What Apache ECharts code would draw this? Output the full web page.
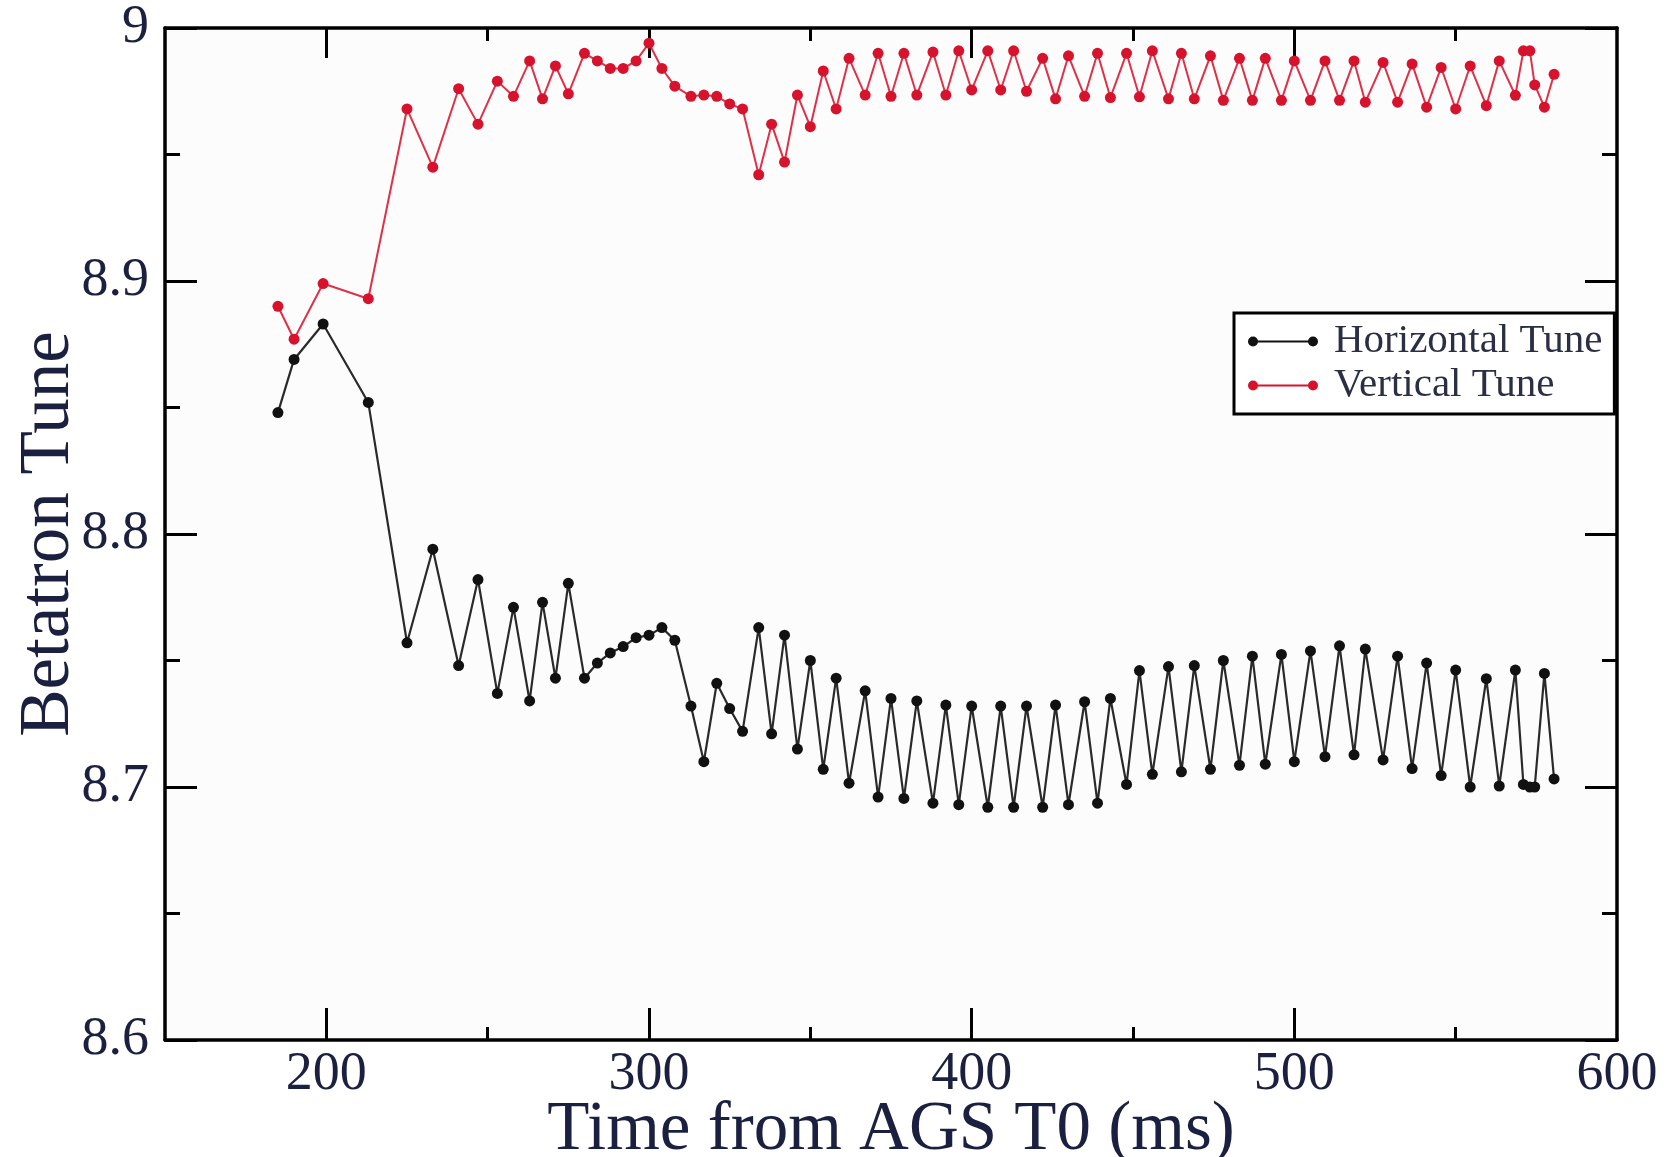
<!DOCTYPE html>
<html>
<head>
<meta charset="utf-8">
<script src="https://cdn.jsdelivr.net/npm/echarts@6/dist/echarts.min.js"></script>
<style>
html,body{margin:0;padding:0;background:#fff;}
#chart{width:1673px;height:1157px;}
</style>
</head>
<body>
<div id="chart"></div>
<script>
// Time from AGS T0 (ms)
var times = [185, 190, 199, 213, 225, 233, 241, 247, 253, 258, 263, 267, 271, 275, 280, 284, 288, 292, 296, 300,
  304, 308, 313, 317, 321, 325, 329, 334, 338, 342, 346, 350, 354, 358, 362, 367, 371, 375, 379, 383,
  388, 392, 396, 400, 405, 409, 413, 417, 422, 426, 430, 435, 439, 443, 448, 452, 456, 461, 465, 469,
  474, 478, 483, 487, 491, 496, 500, 505, 509.5, 514, 518.5, 522, 527.5, 532, 536.5, 541, 545.5, 550, 554.5, 559.5,
  563.5, 568.5, 571, 573, 574.5, 577.5, 580.5];

var horizontalTune = [8.848, 8.869, 8.883, 8.852, 8.757, 8.794, 8.748, 8.782, 8.737, 8.771, 8.734, 8.773, 8.743, 8.7805, 8.743, 8.749, 8.753, 8.7555, 8.759, 8.760,
  8.763, 8.758, 8.732, 8.710, 8.741, 8.731, 8.722, 8.763, 8.721, 8.760, 8.715, 8.750, 8.707, 8.743, 8.7015, 8.738, 8.696, 8.735, 8.6955, 8.734,
  8.6936, 8.7324, 8.693, 8.732, 8.692, 8.732, 8.692, 8.732, 8.692, 8.7324, 8.693, 8.7337, 8.6936, 8.735, 8.701, 8.746, 8.705, 8.7476, 8.706, 8.748,
  8.707, 8.750, 8.7086, 8.7517, 8.709, 8.7524, 8.710, 8.7538, 8.712, 8.7558, 8.7127, 8.7545, 8.7107, 8.7517, 8.7073, 8.749, 8.7045, 8.7462, 8.700, 8.7428,
  8.7004, 8.7462, 8.701, 8.700, 8.700, 8.7449, 8.7032];

var verticalTune = [8.890, 8.877, 8.899, 8.893, 8.968, 8.945, 8.976, 8.962, 8.979, 8.973, 8.987, 8.972, 8.985, 8.974, 8.990, 8.987, 8.984, 8.984, 8.987, 8.994,
  8.984, 8.977, 8.973, 8.9735, 8.973, 8.970, 8.968, 8.942, 8.962, 8.947, 8.9735, 8.961, 8.983, 8.968, 8.988, 8.9735, 8.990, 8.973, 8.990, 8.9735,
  8.9905, 8.9735, 8.991, 8.9755, 8.991, 8.9755, 8.991, 8.975, 8.988, 8.972, 8.989, 8.973, 8.990, 8.9725, 8.990, 8.9728, 8.991, 8.972, 8.990, 8.972,
  8.989, 8.9714, 8.988, 8.9714, 8.988, 8.9714, 8.987, 8.9714, 8.987, 8.9714, 8.987, 8.9707, 8.9864, 8.9707, 8.9858, 8.9687, 8.9844, 8.968, 8.985, 8.9693,
  8.987, 8.9734, 8.991, 8.991, 8.9775, 8.9687, 8.9817];

var seriesNames = ['Horizontal Tune', 'Vertical Tune'];
var xMajorTicks = [200, 300, 400, 500];
var xMinorTicks = [250, 350, 450, 550];
var xTickLabels = [200, 300, 400, 500, 600];
var xTitle = 'Time from AGS T0 (ms)';
var yTitle = 'Betatron Tune';

function pairs(xs, ys) { return xs.map(function (x, i) { return [x, ys[i]]; }); }

var FONT = '"Liberation Serif", "DejaVu Serif", serif';
var TXT = '#1b2040';
var AX = { color: '#000', width: 3.5 };

function xAx(pos, ticks, len, labels, withLine, extra) {
  var o = {
    type: 'value', position: pos, min: 150, max: 600,
    axisLine: { show: withLine, onZero: false, lineStyle: AX },
    axisTick: { show: true, inside: true, length: len, customValues: ticks, lineStyle: { color: '#000', width: 3 } },
    axisLabel: labels ? { show: true, customValues: labels, fontFamily: FONT, fontSize: 54, color: TXT, margin: 8 } : { show: false },
    splitLine: { show: false }
  };
  if (extra) for (var k in extra) o[k] = extra[k];
  return o;
}

function yAx(pos, labels, extra) {
  var o = {
    type: 'value', position: pos, min: 8.6, max: 9.0, interval: 0.1,
    axisLine: { show: true, onZero: false, lineStyle: AX },
    axisTick: { show: true, inside: true, length: 32, lineStyle: { color: '#000', width: 3 } },
    minorTick: { show: true, splitNumber: 2, length: 15, lineStyle: { color: '#000', width: 3 } },
    axisLabel: labels ? { show: true, fontFamily: FONT, fontSize: 54, color: TXT, margin: 16,
      formatter: function (v) { return Math.abs(v - 9) < 1e-6 ? '9' : v.toFixed(1); } } : { show: false },
    splitLine: { show: false }, minorSplitLine: { show: false }
  };
  if (extra) for (var k in extra) o[k] = extra[k];
  return o;
}

var chart = echarts.init(document.getElementById('chart'), null, { renderer: 'canvas' });
chart.setOption({
  animation: false,
  backgroundColor: '#ffffff',
  grid: { left: 165, right: 56, top: 28, bottom: 117, containLabel: false, outerBoundsMode: 'none',
    show: true, backgroundColor: '#fcfcfc', borderWidth: 0 },
  legend: {
    data: seriesNames,
    orient: 'vertical',
    left: 1234, top: 313,
    padding: [8, 12, 8, 14],
    itemGap: 3,
    itemWidth: 70, itemHeight: 11,
    icon: 'path://M5,0A5,5 0 1,1 5,10A5,5 0 1,1 5,0Z M65,0A5,5 0 1,1 65,10A5,5 0 1,1 65,0Z M5,4L65,4L65,6L5,6Z',
    backgroundColor: '#fff',
    borderColor: '#000', borderWidth: 3, borderRadius: 0,
    textStyle: { fontFamily: FONT, fontSize: 41, color: '#2a2f45', lineHeight: 40, padding: [0, 0, 0, 11] }
  },
  xAxis: [
    xAx('bottom', xMajorTicks, 32, xTickLabels, true, {
      name: xTitle, nameLocation: 'middle', nameGap: 56, nameMoveOverlap: false,
      nameTextStyle: { fontFamily: FONT, fontSize: 69, color: TXT }
    }),
    xAx('bottom', xMinorTicks, 13, null, false),
    xAx('top', xMajorTicks, 30, null, true),
    xAx('top', xMinorTicks, 13, null, false)
  ],
  yAxis: [
    yAx('left', true, {
      name: yTitle, nameLocation: 'middle', nameGap: 80, nameRotate: 90, nameMoveOverlap: false,
      nameTextStyle: { fontFamily: FONT, fontSize: 71, color: TXT }
    }),
    yAx('right', false)
  ],
  series: [
    {
      name: seriesNames[0], type: 'line', xAxisIndex: 0, yAxisIndex: 0,
      data: pairs(times, horizontalTune),
      symbol: 'circle', symbolSize: 11, showSymbol: true,
      itemStyle: { color: '#111' },
      lineStyle: { color: '#2a2a2a', width: 2.2 },
      z: 3
    },
    {
      name: seriesNames[1], type: 'line', xAxisIndex: 0, yAxisIndex: 0,
      data: pairs(times, verticalTune),
      symbol: 'circle', symbolSize: 11, showSymbol: true,
      itemStyle: { color: '#d7122c' },
      lineStyle: { color: '#e03048', width: 2 },
      z: 3
    }
  ]
});
</script>
</body>
</html>
